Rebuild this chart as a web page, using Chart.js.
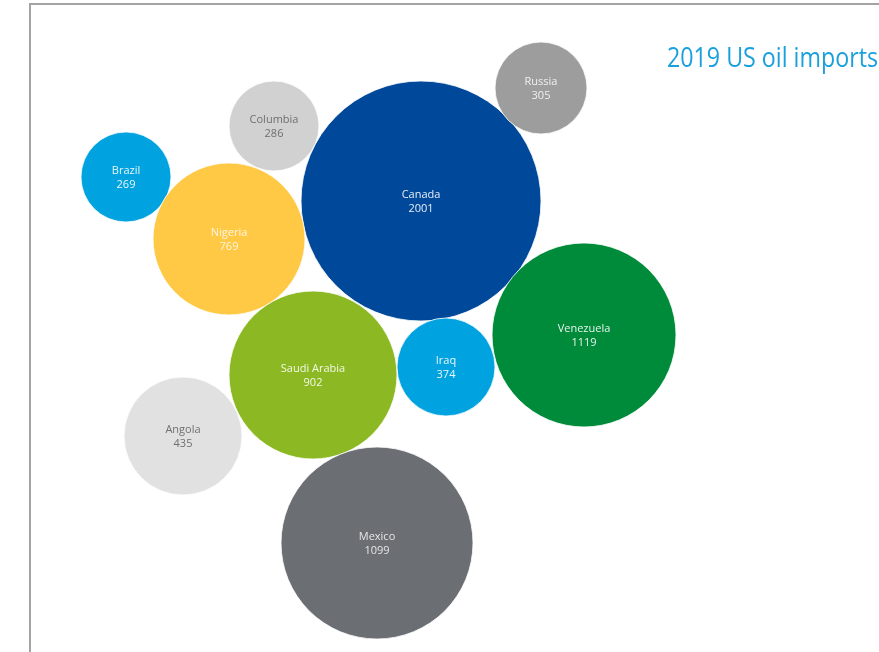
<!DOCTYPE html>
<html>
<head>
<meta charset="utf-8">
<script src="https://cdn.jsdelivr.net/npm/chart.js@4/dist/chart.umd.min.js"></script>
<style>
  html, body { margin: 0; padding: 0; background: #fff; }
  #wrap { position: relative; width: 879px; height: 652px; }
</style>
</head>
<body>
<div id="wrap"><canvas id="myChart" width="879" height="652"></canvas></div>
<script>
// data
const countries = ["Canada", "Russia", "Columbia", "Brazil", "Nigeria", "Venezuela", "Iraq", "Saudi Arabia", "Angola", "Mexico"]
const imports = [2001, 305, 286, 269, 769, 1119, 374, 902, 435, 1099]
// bubble placement (layout units) and bubble radius
const bubbleX = [421, 541, 274, 126, 229, 584, 446, 313, 183, 377]
const bubbleY = [201, 88, 126, 177, 239, 335, 367, 375, 436, 543]
const bubbleR = [120, 46, 45, 45, 76, 92, 49, 84, 59, 96]

const title = "2019 US oil imports"

const fills = ["#00489a", "#9d9d9d", "#d1d1d1", "#00a3e0", "#ffc845", "#008b3a", "#00a3e0", "#8cb923", "#e1e1e1", "#6b6e72"]
const textColors = ["#e8eef6", "#f0f0f0", "#6f6f6f", "#eaf6fc", "#fff6df", "#e6f3ea", "#eaf6fc", "#f3f8e6", "#6f6f6f", "#e6e6e6"]

const points = countries.map(function (c, i) {
    return { x: bubbleX[i], y: bubbleY[i], r: bubbleR[i] }
})

const framePlugin = {
    id: "frame",
    beforeDraw(chart) {
        const c = chart.ctx
        c.save()
        c.strokeStyle = "#a3a3a3"
        c.lineWidth = 2
        c.beginPath()
        c.moveTo(30, chart.height)
        c.lineTo(30, 4)
        c.lineTo(chart.width, 4)
        c.stroke()
        c.restore()
    },
}

const labelPlugin = {
    id: "bubbleLabels",
    afterDatasetsDraw(chart) {
        const c = chart.ctx
        const meta = chart.getDatasetMeta(0)
        c.save()
        c.textAlign = "center"
        c.textBaseline = "middle"
        c.font = "11px 'Open Sans', sans-serif"
        meta.data.forEach(function (el, i) {
            c.fillStyle = textColors[i]
            c.fillText(countries[i], el.x, el.y - 6)
            c.fillText(String(imports[i]), el.x, el.y + 8)
        })
        // title
        c.textAlign = "right"
        c.textBaseline = "alphabetic"
        c.fillStyle = "#1aa0dc"
        c.font = "27px 'Open Sans', sans-serif"
        c.fillText(title, 878, 67, 211)
        c.restore()
    },
}

const ctx = document.getElementById("myChart").getContext("2d")
let myChart = new Chart(ctx, {
    type: "bubble",
    data: {
        labels: countries,
        datasets: [
            {
                label: title,
                data: points,
                backgroundColor: fills,
                borderColor: "rgba(255,255,255,0.8)",
                borderWidth: 1,
                hoverBorderWidth: 1,
                clip: false,
            },
        ],
    },
    options: {
        responsive: false,
        animation: false,
        events: [],
        layout: { padding: 0, autoPadding: false },
        scales: {
            x: { type: "linear", min: 0, max: 879, display: false },
            y: { type: "linear", min: 0, max: 652, reverse: true, display: false },
        },
        plugins: {
            legend: { display: false },
            tooltip: { enabled: false },
            title: { display: false },
        },
    },
    plugins: [framePlugin, labelPlugin],
})
</script>
</body>
</html>
